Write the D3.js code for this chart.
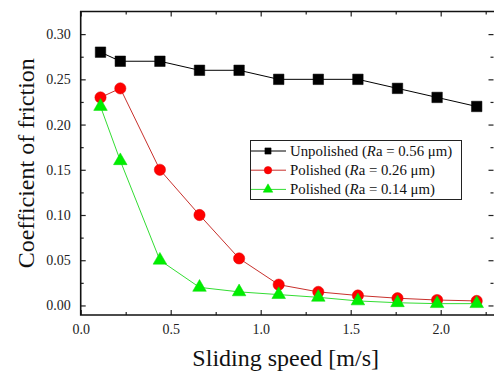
<!DOCTYPE html>
<html>
<head>
<meta charset="utf-8">
<script src="https://cdn.jsdelivr.net/npm/d3@7"></script>
<style>
	body { margin: 0; background: #fff; }
	svg text { font-family: "Liberation Serif", "Times New Roman", serif; }
</style>
</head>
<body>
<main></main>
<script>
const speeds = [0.11, 0.22, 0.44, 0.66, 0.88, 1.10, 1.32, 1.54, 1.76, 1.98, 2.20];
const unpolished = [0.28, 0.27, 0.27, 0.26, 0.26, 0.25, 0.25, 0.25, 0.24, 0.23, 0.22];
const polished26 = [0.23, 0.24, 0.15, 0.10, 0.052, 0.023, 0.015, 0.011, 0.008, 0.006, 0.005];
const polished14 = [0.22, 0.16, 0.05, 0.02, 0.015, 0.012, 0.009, 0.005, 0.003, 0.002, 0.002];
const seriesNames = ["Unpolished", "Polished", "Polished"];
const seriesRa = ["0.56", "0.26", "0.14"];
const xTicks = [0, 0.5, 1.0, 1.5, 2.0];
const yTicks = [0, 0.05, 0.10, 0.15, 0.20, 0.25, 0.30];

function chart() {
	const w = 494,
	h = 373,
	left = 80.7, right = 494.7, top = 11.5, bottom = 315;

	const svg = d3.select("main")
					.append("svg")
					.attr("width", w)
					.attr("height", h);

	const xScale = d3.scaleLinear().domain([0, 2.3]).range([left, right]);
	const yScale = d3.scaleLinear().domain([-0.01, 0.325]).range([bottom - 0.5, top]);

	const series = [
		{vals: unpolished, line: "#000", fill: "#000", stroke: "#000", shape: d3.symbolSquare, size: 110, lsize: 38},
		{vals: polished26, line: "#c8302c", fill: "#ff0000", stroke: "#e00000", shape: d3.symbolCircle, size: 100, lsize: 44},
		{vals: polished14, line: "#33dd33", fill: "#00ee00", stroke: "#00dd00", shape: d3.symbolTriangle, size: 80, lsize: 40}
	];

	const line = d3.line()
		.x((d) => xScale(d[0]))
		.y((d) => yScale(d[1]));

	series.forEach((s) => {
		const pts = speeds.map((x, i) => [x, s.vals[i]]);
		svg.append("path")
			.datum(pts)
			.attr("fill", "none")
			.attr("stroke", s.line)
			.attr("stroke-width", 1)
			.attr("d", line);
		svg.selectAll(null)
			.data(pts)
			.enter()
			.append("path")
			.attr("transform", (d) => "translate(" + xScale(d[0]) + "," + yScale(d[1]) + ")")
			.attr("d", d3.symbol().type(s.shape).size(s.size))
			.attr("fill", s.fill)
			.attr("stroke", s.stroke)
			.attr("stroke-width", 0.5);
	});

	// axes, ticks inward
	const xMinor = d3.range(0.25, 2.3, 0.5);
	const yMinor = d3.range(0.025, 0.325, 0.05);

	const xAxis = d3.axisBottom(xScale).tickValues(xTicks).tickSize(-5).tickPadding(9).tickFormat(d3.format(".1f"));
	svg.append("g")
		.attr("transform", "translate(0," + bottom + ")")
		.call(xAxis)
		.call((g) => g.select(".domain").remove());
	svg.append("g")
		.attr("transform", "translate(0," + bottom + ")")
		.call(d3.axisBottom(xScale).tickValues(xMinor).tickSize(-3).tickFormat(""))
		.call((g) => g.select(".domain").remove());
	svg.append("g")
		.attr("transform", "translate(0," + top + ")")
		.call(d3.axisTop(xScale).tickValues(xTicks).tickSize(-5).tickFormat(""))
		.call((g) => g.select(".domain").remove());
	svg.append("g")
		.attr("transform", "translate(0," + top + ")")
		.call(d3.axisTop(xScale).tickValues(xMinor).tickSize(-3).tickFormat(""))
		.call((g) => g.select(".domain").remove());

	const yAxis = d3.axisLeft(yScale).tickValues(yTicks).tickSize(-5).tickPadding(10).tickFormat(d3.format(".2f"));
	svg.append("g")
		.attr("transform", "translate(" + left + ",0)")
		.call(yAxis)
		.call((g) => g.select(".domain").remove());
	svg.append("g")
		.attr("transform", "translate(" + left + ",0)")
		.call(d3.axisLeft(yScale).tickValues(yMinor).tickSize(-3).tickFormat(""))
		.call((g) => g.select(".domain").remove());
	svg.append("g")
		.attr("transform", "translate(" + (w - 0.5) + ",0)")
		.call(d3.axisRight(yScale).tickValues(yTicks).tickSize(-5).tickFormat(""))
		.call((g) => g.select(".domain").remove());
	svg.append("g")
		.attr("transform", "translate(" + (w - 0.5) + ",0)")
		.call(d3.axisRight(yScale).tickValues(yMinor).tickSize(-3).tickFormat(""))
		.call((g) => g.select(".domain").remove());

	svg.selectAll(".tick line").attr("stroke", "#222").attr("stroke-width", 1.2);
	svg.selectAll(".tick text")
		.attr("fill", "#222")
		.style("font-size", "14px");

	// frame
	svg.append("path")
		.attr("d", "M" + right + "," + top + "H" + left + "V" + bottom + "H" + right)
		.attr("fill", "none")
		.attr("stroke", "#111")
		.attr("stroke-width", 1.6);

	svg.append("text")
		.attr("transform", "rotate(-90)")
		.attr("x", -(top + bottom) / 2)
		.attr("y", 34)
		.attr("text-anchor", "middle")
		.style("font-size", "24px")
		.attr("fill", "#111")
		.text("Coefficient of friction");

	svg.append("text")
		.attr("x", (left + right) / 2 - 2)
		.attr("y", 366)
		.attr("text-anchor", "middle")
		.style("font-size", "24px")
		.attr("fill", "#111")
		.text("Sliding speed [m/s]");

	// legend
	const lg = svg.append("g");
	lg.append("rect")
		.attr("x", 250.5).attr("y", 140.5)
		.attr("width", 211).attr("height", 59)
		.attr("fill", "#fff")
		.attr("stroke", "#222")
		.attr("stroke-width", 1);
	series.forEach((s, i) => {
		const yy = 151 + i * 19.2;
		lg.append("line")
			.attr("x1", 251).attr("x2", 286)
			.attr("y1", yy).attr("y2", yy)
			.attr("stroke", s.line).attr("stroke-width", 1);
		lg.append("path")
			.attr("transform", "translate(268," + yy + ")")
			.attr("d", d3.symbol().type(s.shape).size(s.lsize))
			.attr("fill", s.fill)
			.attr("stroke", s.stroke)
			.attr("stroke-width", 0.5);
		const t = lg.append("text")
			.attr("x", 290).attr("y", yy + 5)
			.style("font-size", "14.8px")
			.attr("fill", "#111");
		t.append("tspan").text(seriesNames[i] + " (");
		t.append("tspan").style("font-style", "italic").text("R");
		t.append("tspan").text("a = " + seriesRa[i] + " \u03bcm)");
	});
}

chart();
</script>
</body>
</html>
